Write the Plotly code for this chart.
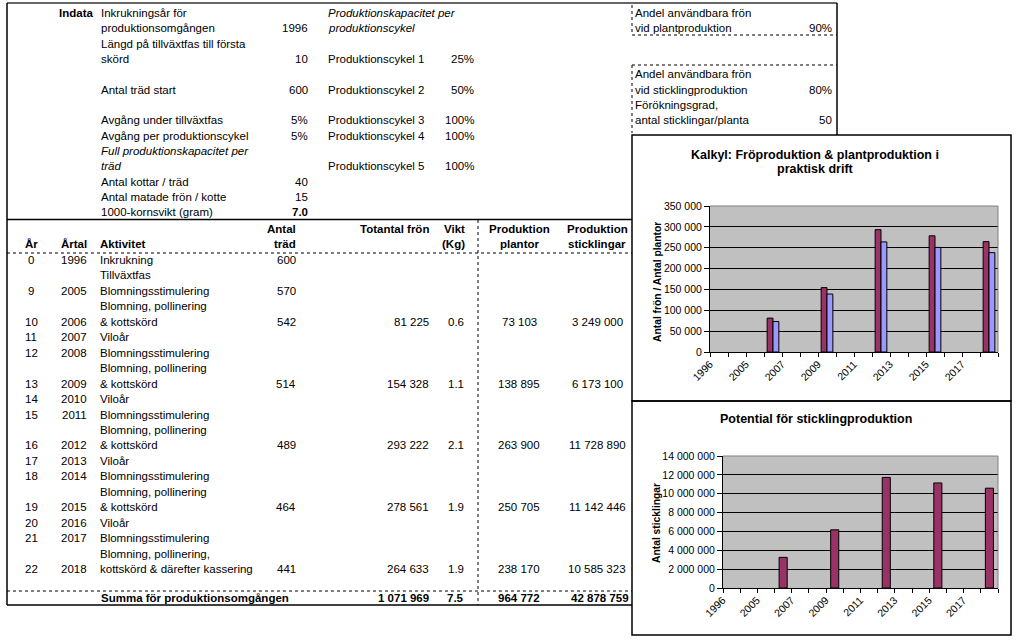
import plotly.graph_objects as go

W, H = 1024, 642
FONT = "Liberation Sans, Arial, sans-serif"

# ---------------- data ----------------
indata_labels = [
    "Inkrukningsår för\nproduktionsomgången",
    "Längd på tillväxtfas till första\nskörd",
    "Antal träd start",
    "Avgång under tillväxtfas",
    "Avgång per produktionscykel",
    "Antal kottar / träd",
    "Antal matade frön / kotte",
    "1000-kornsvikt (gram)",
]
indata_values = ["1996", "10", "600", "5%", "5%", "40", "15", "7.0"]
indata_lines = [0, 2, 5, 7, 8, 11, 12, 13]          # first text line of each parameter

cykel_labels = ["Produktionscykel 1", "Produktionscykel 2", "Produktionscykel 3",
                "Produktionscykel 4", "Produktionscykel 5"]
cykel_values = ["25%", "50%", "100%", "100%", "100%"]
cykel_lines = [3, 5, 7, 8, 10]

andel_labels = ["Andel användbara frön\nvid plantproduktion",
                "Andel användbara frön\nvid sticklingproduktion",
                "Förökningsgrad,\nantal sticklingar/planta"]
andel_values = ["90%", "80%", "50"]
andel_lines = [0, 4, 6]

ar = [0, None, 9, 10, 11, 12, 13, 14, 15, 16, 17, 18, 19, 20, 21, 22]
artal = ["1996", "", "2005", "2006", "2007", "2008", "2009", "2010", "2011",
         "2012", "2013", "2014", "2015", "2016", "2017", "2018"]
aktivitet = ["Inkrukning", "Tillväxtfas", "Blomningsstimulering",
             "Blomning, pollinering\n& kottskörd", "Viloår", "Blomningsstimulering",
             "Blomning, pollinering\n& kottskörd", "Viloår", "Blomningsstimulering",
             "Blomning, pollinering\n& kottskörd", "Viloår", "Blomningsstimulering",
             "Blomning, pollinering\n& kottskörd", "Viloår", "Blomningsstimulering",
             "Blomning, pollinering,\nkottskörd & därefter kassering"]
antal_trad = [600, None, 570, 542, None, None, 514, None, None, 489, None, None, 464, None, None, 441]
totantal_fron = [None, None, None, 81225, None, None, 154328, None, None, 293222,
                 None, None, 278561, None, None, 264633]
vikt_kg = [None, None, None, 0.6, None, None, 1.1, None, None, 2.1, None, None, 1.9, None, None, 1.9]
produktion_plantor = [None, None, None, 73103, None, None, 138895, None, None, 263900,
                      None, None, 250705, None, None, 238170]
produktion_sticklingar = [None, None, None, 3249000, None, None, 6173100, None, None, 11728890,
                          None, None, 11142446, None, None, 10585323]
summa_fron, summa_vikt, summa_plantor, summa_sticklingar = 1071969, 7.5, 964772, 42878759

chart1_title = ["Kalkyl: Fröproduktion & plantproduktion i", "praktisk drift"]
chart1_ytitle = "Antal frön / Antal plantor"
chart2_title = "Potential för sticklingproduktion"
chart2_ytitle = "Antal sticklingar"

# ---------------- helpers ----------------
annotations, shapes = [], []


def fmt(v):
    return f"{v:,}".replace(",", " ")


def px(x):
    return x / W


def py(y):
    return 1 - y / H


def txt(x, y, s, anchor="left", bold=False, italic=False, size=11.5, angle=0):
    if bold:
        s = f"<b>{s}</b>"
    if italic:
        s = f"<i>{s}</i>"
    annotations.append(dict(x=px(x), y=py(y), xref="paper", yref="paper", text=s,
                            showarrow=False, xanchor=anchor, yanchor="middle",
                            textangle=angle, borderpad=0,
                            font=dict(family=FONT, size=size, color="black")))


def line(x0, y0, x1, y1, width=1.0, dash="solid", color="black"):
    shapes.append(dict(type="line", xref="paper", yref="paper", x0=px(x0), y0=py(y0),
                       x1=px(x1), y1=py(y1), line=dict(color=color, width=width, dash=dash)))


def rect(x0, y0, x1, y1, width=1.5):
    shapes.append(dict(type="rect", xref="paper", yref="paper", x0=px(x0), y0=py(y0),
                       x1=px(x1), y1=py(y1), line=dict(color="black", width=width)))


# ---------------- Indata block ----------------
LY0, LDY = 13, 15.33
txt(58, LY0, "Indata", bold=True)
for lab, val, l0 in zip(indata_labels, indata_values, indata_lines):
    parts = lab.split("\n")
    for k, p in enumerate(parts):
        txt(100, LY0 + LDY * (l0 + k), p)
    txt(309, LY0 + LDY * (l0 + len(parts) - 1), val, anchor="right", bold=(val == "7.0"))
txt(100, LY0 + LDY * 9, "Full produktionskapacitet per", italic=True)
txt(100, LY0 + LDY * 10, "träd", italic=True)

txt(327, LY0, "Produktionskapacitet per", italic=True)
txt(327, LY0 + LDY, "produktionscykel", italic=True)
for lab, val, l0 in zip(cykel_labels, cykel_values, cykel_lines):
    txt(327, LY0 + LDY * l0, lab)
    txt(475, LY0 + LDY * l0, val, anchor="right")

for lab, val, l0 in zip(andel_labels, andel_values, andel_lines):
    parts = lab.split("\n")
    for k, p in enumerate(parts):
        txt(634, LY0 + LDY * (l0 + k), p)
    txt(833, LY0 + LDY * (l0 + len(parts) - 1), val, anchor="right")

# ---------------- main table ----------------
txt(297, 229, "Antal", anchor="right", bold=True)
txt(31, 244, "År", anchor="center", bold=True)
txt(88, 244, "Årtal", anchor="right", bold=True)
txt(99, 244, "Aktivitet", bold=True)
txt(297, 244, "träd", anchor="right", bold=True)
txt(430, 229, "Totantal frön", anchor="right", bold=True)
txt(466, 229, "Vikt", anchor="right", bold=True)
txt(466, 244, "(Kg)", anchor="right", bold=True)
txt(519, 229, "Produktion", anchor="center", bold=True)
txt(519, 244, "plantor", anchor="center", bold=True)
txt(597, 229, "Produktion", anchor="center", bold=True)
txt(597, 244, "sticklingar", anchor="center", bold=True)

RY0, RDY = 260, 15.45
li = 0
for i in range(len(artal)):
    parts = aktivitet[i].split("\n")
    for k, p in enumerate(parts):
        txt(99, RY0 + RDY * (li + k), p)
    yv = RY0 + RDY * (li + len(parts) - 1)
    if ar[i] is not None:
        txt(31, yv, str(ar[i]), anchor="center")
    if artal[i]:
        txt(88, yv, artal[i], anchor="right")
    if antal_trad[i] is not None:
        txt(297, yv, str(antal_trad[i]), anchor="right")
    if totantal_fron[i] is not None:
        txt(430, yv, fmt(totantal_fron[i]), anchor="right")
    if vikt_kg[i] is not None:
        txt(465, yv, f"{vikt_kg[i]:.1f}", anchor="right")
    if produktion_plantor[i] is not None:
        txt(519, yv, fmt(produktion_plantor[i]), anchor="center")
    if produktion_sticklingar[i] is not None:
        txt(597, yv, fmt(produktion_sticklingar[i]), anchor="center")
    li += len(parts)

txt(100, 598, "Summa för produktionsomgången", bold=True)
txt(430, 598, fmt(summa_fron), anchor="right", bold=True)
txt(465, 598, f"{summa_vikt:.1f}", anchor="right", bold=True)
txt(519, 598, fmt(summa_plantor), anchor="center", bold=True)
txt(600, 598, fmt(summa_sticklingar), anchor="center", bold=True)

# ---------------- table lines ----------------
line(7, 3, 837, 3, width=2, color="#666666")
line(7, 3, 7, 605, width=1.5)
line(837, 3, 837, 135, width=1.5)
line(7, 219.5, 632, 219.5, width=1.5)
line(7, 253, 632, 253, dash="dot")
line(478, 220, 478, 605, dash="dot")
line(7, 591, 632, 591, dash="dot")
line(7, 605, 632, 605, width=1.5)
# dotted boxes on right
line(632, 5, 632, 35, dash="dot")
line(632, 35, 837, 35, dash="dot")
line(632, 65, 837, 65, dash="dot")
line(632, 65, 632, 133, dash="dot")

# chart frames
rect(632, 135, 1011, 401)
rect(632, 401, 1011, 635)

# ---------------- charts ----------------
cats = [a if a else " " for a in artal]
ticktext = [c if i % 2 == 0 else "" for i, c in enumerate(cats)]

fig = go.Figure()
fig.add_trace(go.Bar(x=cats, y=totantal_fron, name="Totantal frön",
                     marker=dict(color="#993366", line=dict(color="black", width=1)),
                     xaxis="x", yaxis="y"))
fig.add_trace(go.Bar(x=cats, y=produktion_plantor, name="Produktion plantor",
                     marker=dict(color="#9999FF", line=dict(color="black", width=1)),
                     xaxis="x", yaxis="y"))
fig.add_trace(go.Bar(x=cats, y=produktion_sticklingar, name="Produktion sticklingar",
                     marker=dict(color="#993366", line=dict(color="black", width=1)),
                     width=0.47, xaxis="x2", yaxis="y2"))


def xaxis_cfg(x0, x1, anchor):
    return dict(domain=[px(x0), px(x1)], anchor=anchor, type="category",
                categoryorder="array", categoryarray=cats, range=[-0.5, len(cats) - 0.5],
                tickmode="array", tickvals=cats, ticktext=ticktext, tickangle=-45,
                ticks="outside", ticklen=4, tickcolor="black", tickson="boundaries",
                ticklabelshift=-9, ticklabelstandoff=1,
                showline=True, linecolor="black", linewidth=1, showgrid=False,
                tickfont=dict(family=FONT, size=10.5, color="black"), automargin=False,
                fixedrange=True)


def yaxis_cfg(y0, y1, anchor, rmax, dtick):
    return dict(domain=[py(y1), py(y0)], anchor=anchor, range=[0, rmax], tick0=0, dtick=dtick,
                tickformat=",d", showgrid=True, gridcolor="black", gridwidth=1,
                showline=True, linecolor="black", linewidth=1, ticks="outside", ticklen=5,
                tickcolor="black", zeroline=False,
                tickfont=dict(family=FONT, size=10.5, color="black"), automargin=False,
                fixedrange=True)


# plot-area right/top border (grey)
for xr, yr in (("x domain", "y domain"), ("x2 domain", "y2 domain")):
    shapes.append(dict(type="line", xref=xr, yref=yr, x0=1, x1=1, y0=0, y1=1,
                       line=dict(color="#808080", width=1)))
    shapes.append(dict(type="line", xref=xr, yref=yr, x0=0, x1=1, y0=1, y1=1,
                       line=dict(color="#808080", width=1)))

# chart titles / axis titles
txt(815, 155, chart1_title[0], anchor="center", bold=True, size=12.5)
txt(815, 169, chart1_title[1], anchor="center", bold=True, size=12.5)
txt(658, 282, chart1_ytitle, anchor="center", bold=True, size=10.3, angle=-90)
txt(816, 419, chart2_title, anchor="center", bold=True, size=12.5)
txt(656, 523, chart2_ytitle, anchor="center", bold=True, size=10.3, angle=-90)

fig.update_layout(
    width=W, height=H, margin=dict(l=0, r=0, t=0, b=0), autosize=False,
    paper_bgcolor="white", plot_bgcolor="#C0C0C0",
    separators=". ", showlegend=False,
    barmode="group", bargap=0.35, bargroupgap=0,
    xaxis=xaxis_cfg(710, 998, "y"),
    yaxis=yaxis_cfg(206, 352, "x", 350000, 50000),
    xaxis2=xaxis_cfg(723, 998, "y2"),
    yaxis2=yaxis_cfg(456, 588, "x2", 14000000, 2000000),
    annotations=annotations, shapes=shapes,
    font=dict(family=FONT, color="black"),
)

fig.write_html("out.html", config={"displayModeBar": False, "staticPlot": True},
               post_script="document.body.style.margin='0';document.body.style.overflow='hidden';")
